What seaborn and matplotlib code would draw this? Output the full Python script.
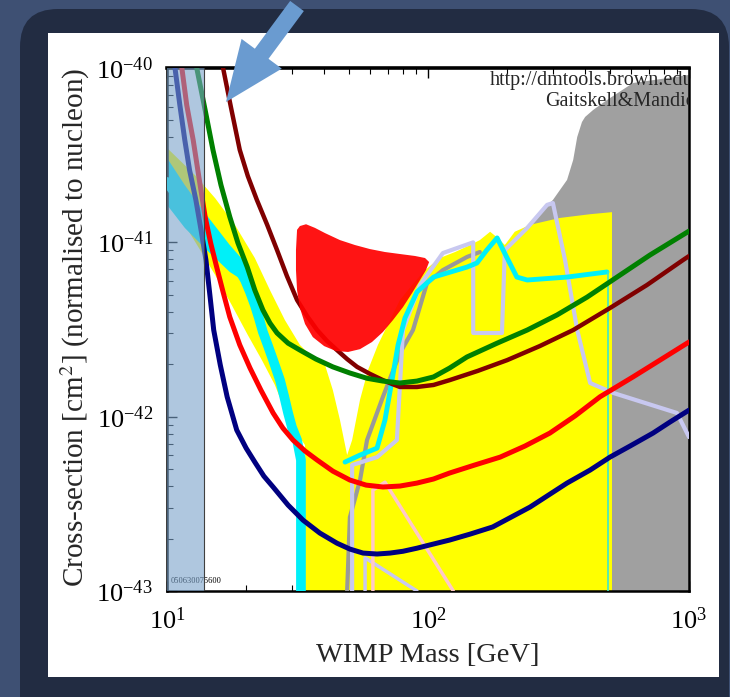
import matplotlib
matplotlib.use("Agg")
import matplotlib.pyplot as plt
import seaborn as sns
from matplotlib.patches import Rectangle, FancyBboxPatch, FancyArrow
from matplotlib.ticker import LogLocator, LogFormatterMathtext, NullFormatter

# ---------------- data (WIMP mass in GeV, cross-section in cm^2) ----------------
band_mass = [10.0, 13.9]

navy_mass = [10.73, 11.2, 11.7, 12.2, 12.9, 13.5, 14.1, 14.6, 15.1, 16.0, 17.0, 18.5, 20.1, 21.7, 23.5, 25.5, 29.1, 33.2,
             38.5, 44.8, 50.2, 56.4, 63.8, 71.5, 80.2, 90.7, 105, 121, 145, 177, 246, 341, 418, 498, 594, 728, 845, 1000]
navy_xsec = [1.00e-40, 6.13e-41, 3.86e-41, 2.60e-41, 1.75e-41, 1.18e-41, 7.91e-42, 4.98e-42, 3.14e-42, 1.98e-42, 1.30e-42,
             8.38e-43, 6.60e-43, 5.49e-43, 4.56e-43, 3.95e-43, 3.11e-43, 2.55e-43, 2.15e-43, 1.88e-43, 1.74e-43, 1.65e-43,
             1.63e-43, 1.65e-43, 1.69e-43, 1.76e-43, 1.86e-43, 1.96e-43, 2.12e-43, 2.33e-43, 3.03e-43, 4.16e-43, 4.94e-43,
             5.86e-43, 6.78e-43, 8.05e-43, 9.31e-43, 1.09e-42]

red_mass = [11.4, 11.9, 12.6, 13.3, 14.0, 14.7, 15.5, 16.4, 17.4, 19.0, 20.8, 22.9, 25.5, 27.8, 30.4, 33.8, 37.6, 43.2, 50.2,
            57.9, 67.2, 78.1, 90.7, 105, 121, 151, 189, 235, 293, 366, 456, 610, 774, 1000]
red_xsec = [1.0e-40, 6.13e-41, 3.86e-41, 2.28e-41, 1.40e-41, 9.91e-42, 7.21e-42, 5.19e-42, 3.73e-42, 2.58e-42, 1.90e-42,
            1.42e-42, 1.05e-42, 8.60e-43, 7.34e-43, 6.35e-43, 5.64e-43, 4.87e-43, 4.33e-43, 4.05e-43, 3.95e-43, 4.00e-43,
            4.16e-43, 4.39e-43, 4.75e-43, 5.28e-43, 5.86e-43, 6.78e-43, 8.05e-43, 1.01e-42, 1.30e-42, 1.69e-42, 2.11e-42,
            2.68e-42]

green_mass = [13.0, 14.0, 15.0, 16.1, 17.4, 18.7, 20.3, 21.7, 23.3, 24.8, 26.4, 29.1, 32.3, 37.2, 43.2, 50.2, 58.4, 67.2,
              78.1, 90.7, 105, 121, 141, 184, 240, 312, 407, 530, 709, 1000]
green_xsec = [1.0e-40, 5.74e-41, 3.39e-41, 2.13e-41, 1.40e-41, 9.91e-42, 7.21e-42, 5.32e-42, 4.09e-42, 3.44e-42, 3.02e-42,
              2.64e-42, 2.41e-42, 2.14e-42, 1.93e-42, 1.78e-42, 1.66e-42, 1.60e-42, 1.56e-42, 1.60e-42, 1.69e-42, 1.90e-42,
              2.20e-42, 2.64e-42, 3.14e-42, 3.83e-42, 4.85e-42, 6.32e-42, 8.46e-42, 1.16e-41]

maroon_mass = [16.4, 17.6, 19.0, 20.4, 22.1, 24.2, 26.4, 28.8, 31.5, 34.4, 37.6, 41.0, 44.8, 49.0, 53.5, 59.9, 67.2, 72.8,
               78.1, 90.7, 105, 121, 155, 201, 268, 360, 498, 690, 948, 1000]
maroon_xsec = [1.0e-40, 5.90e-41, 3.39e-41, 2.40e-41, 1.75e-41, 1.26e-41, 9.03e-42, 6.41e-42, 4.67e-42, 3.78e-42, 3.14e-42,
               2.72e-42, 2.41e-42, 2.14e-42, 1.93e-42, 1.76e-42, 1.62e-42, 1.54e-42, 1.48e-42, 1.48e-42, 1.52e-42, 1.62e-42,
               1.83e-42, 2.11e-42, 2.54e-42, 3.14e-42, 4.20e-42, 5.69e-42, 7.91e-42, 8.34e-42]

blob_mass = [31.5, 32.3, 34.1, 36.9, 40.3, 46.0, 52.5, 59.9, 68.4, 78.1, 89.2, 97.4, 101, 98.2, 93.2, 86.9, 80.2, 73.4,
             67.2, 61.0, 54.9, 49.4, 44.4, 40.0, 36.2, 33.8, 32.3, 31.5, 31.2, 31.2]
blob_xsec = [1.18e-41, 1.24e-41, 1.27e-41, 1.21e-41, 1.13e-41, 1.03e-41, 9.65e-42, 9.15e-42, 8.80e-42, 8.57e-42, 8.35e-42,
             8.13e-42, 7.71e-42, 6.93e-42, 6.08e-42, 5.12e-42, 4.25e-42, 3.58e-42, 3.06e-42, 2.68e-42, 2.44e-42, 2.35e-42,
             2.38e-42, 2.54e-42, 2.86e-42, 3.40e-42, 4.20e-42, 5.32e-42, 6.93e-42, 9.03e-42]

yellow_mass = [10.0, 12.8, 15.3, 18.2, 21.7, 24.8, 28.3, 32.3, 36.9, 40.3, 43.2, 46.0, 49.0, 51.2, 54.9, 58.9, 64.3, 71.5,
               78.1, 86.9, 97.4, 111, 127, 145, 158, 173, 185, 197, 215, 246, 320, 418, 507, 507, 33.8, 33.8, 30.9, 28.3,
               25.9, 23.1, 20.4, 17.7, 15.3, 13.4, 11.7, 10.0]
yellow_xsec = [3.48e-41, 2.43e-41, 1.79e-41, 1.26e-41, 8.13e-42, 5.32e-42, 3.58e-42, 2.58e-42, 2.11e-42, 1.98e-42, 1.42e-42,
               9.56e-43, 6.02e-43, 7.34e-43, 1.25e-42, 1.85e-42, 2.58e-42, 3.58e-42, 4.67e-42, 5.69e-42, 6.93e-42, 8.13e-42,
               8.80e-42, 9.65e-42, 1.03e-41, 1.15e-41, 1.06e-41, 9.65e-42, 1.15e-41, 1.26e-41, 1.38e-41, 1.45e-41, 1.49e-41,
               1.0e-43, 1.0e-43, 6.87e-43, 8.38e-43, 1.09e-42, 1.52e-42, 2.11e-42, 2.94e-42, 4.37e-42, 6.49e-42, 9.03e-42,
               1.26e-41, 1.75e-41]

gray_mass = [1000, 610, 485, 429, 400, 389, 373, 360, 341, 301, 252, 219, 206, 158, 158, 507, 507, 1000]
gray_xsec = [9.12e-41, 8.20e-41, 6.55e-41, 5.74e-41, 5.24e-41, 4.90e-41, 4.02e-41, 2.97e-41, 2.28e-41, 1.75e-41, 1.34e-41,
             1.07e-41, 9.91e-42, 8.46e-42, 6.93e-42, 6.93e-42, 1.0e-43, 1.0e-43]

cyanband_mass = [10.0, 11.7, 14.2, 17.4, 20.8, 20.8, 17.4, 14.2, 11.7, 10.0]
cyanband_xsec = [3.05e-41, 2.13e-41, 1.43e-41, 9.65e-42, 7.12e-42, 5.69e-42, 6.76e-42, 9.03e-42, 1.21e-41, 1.64e-41]

cyan_mass = [10.0, 11.0, 12.2, 13.4, 14.6, 16.0, 17.4, 18.7, 19.9, 20.8, 21.7, 22.5, 23.3, 24.4, 25.5, 27.1, 28.1, 29.1,
             30.1, 31.5, 32.6, 32.6]
cyan_xsec = [2.22e-41, 1.82e-41, 1.49e-41, 1.26e-41, 1.06e-41, 9.15e-42, 8.13e-42, 7.12e-42, 6.08e-42, 5.19e-42, 4.37e-42,
             3.68e-42, 3.06e-42, 2.54e-42, 2.11e-42, 1.62e-42, 1.31e-42, 1.05e-42, 8.71e-43, 7.34e-43, 5.64e-43, 1.0e-43]

cyan2_mass = [48.1, 54.9, 63.8, 68.4, 72.8, 76.8, 81.6, 90.7, 105, 141, 154, 168, 184, 194, 219, 240, 341, 485]
cyan2_xsec = [5.49e-43, 6.02e-43, 6.60e-43, 9.56e-43, 1.62e-42, 2.58e-42, 3.68e-42, 5.19e-42, 6.32e-42, 7.21e-42, 7.61e-42,
              9.03e-42, 1.06e-41, 9.03e-42, 6.32e-42, 6.08e-42, 6.32e-42, 6.76e-42]
cyan3_mass = [490, 490]
cyan3_xsec = [6.76e-42, 1.0e-43]

grayline_mass = [49.0, 50.2, 54.9, 58.4, 67.2, 78.1, 87.6, 99.1, 114, 141, 158]
grayline_xsec = [1.0e-43, 2.65e-43, 4.33e-43, 7.34e-43, 1.30e-42, 2.32e-42, 3.14e-42, 5.84e-42, 6.93e-42, 8.24e-42, 8.80e-42]

lav_mass = [51.2, 51.2, 63.8, 76.0, 80.2, 93.2, 114, 149, 149, 192, 197, 240, 286, 301, 335, 373, 418, 511, 899, 1000]
lav_xsec = [1.0e-43, 5.28e-43, 5.86e-43, 7.34e-43, 3.14e-42, 5.69e-42, 8.68e-42, 1.00e-41, 3.02e-42, 3.02e-42, 9.03e-42,
            1.21e-41, 1.64e-41, 1.68e-41, 7.91e-42, 3.14e-42, 1.56e-42, 1.37e-42, 1.05e-42, 7.64e-43]
lav2_mass = [57.4, 57.4, 90.7]
lav2_xsec = [1.0e-43, 1.55e-43, 1.0e-43]

pink_mass = [61.5, 61.5, 68.4, 125]
pink_xsec = [1.0e-43, 3.79e-43, 4.21e-43, 1.0e-43]

x_ticks = [10, 100, 1000]
y_ticks = [1e-43, 1e-42, 1e-41, 1e-40]

# ---------------- style ----------------
sns.set_theme(style="ticks")
plt.rcParams["font.family"] = ["Liberation Serif", "DejaVu Serif"]
plt.rcParams["mathtext.fontset"] = "stix"

W, H = 730, 697
fig = plt.figure(figsize=(W / 100, H / 100), dpi=100)
fig.patch.set_facecolor("#3e5073")

bg = fig.add_axes([0, 0, 1, 1], zorder=0)
bg.set_xlim(0, W)
bg.set_ylim(H, 0)
bg.axis("off")
bg.add_patch(FancyBboxPatch((20, 9), 709, 730, boxstyle="round,pad=0,rounding_size=38",
                            facecolor="#222c42", edgecolor="none"))
bg.add_patch(Rectangle((48, 33), 671, 644, facecolor="white", edgecolor="none"))

ax = fig.add_axes([167 / W, 1 - 591 / H, (689 - 167) / W, (591 - 68) / H], zorder=2)
ax.set_facecolor("white")
ax.set_xscale("log")
ax.set_yscale("log")

# fills
ax.fill(gray_mass, gray_xsec, color="#a0a0a0", lw=0, zorder=1)
ax.fill(yellow_mass, yellow_xsec, color="#ffff00", lw=0, zorder=2)
ax.fill(cyanband_mass, cyanband_xsec, color="#00f0f8", lw=0, zorder=2.5)

# lines
def line(xs, ys, color, lw, z):
    sns.lineplot(x=xs, y=ys, ax=ax, color=color, lw=lw, sort=False, estimator=None, zorder=z)

line(cyan_mass, cyan_xsec, "#00f0f8", 7.0, 3)
line(grayline_mass, grayline_xsec, "#999999", 3.0, 3.2)
line(lav_mass, lav_xsec, "#c8c8f0", 3.0, 3.3)
line(lav2_mass, lav2_xsec, "#c8c8f0", 2.5, 3.3)
line(pink_mass, pink_xsec, "#ffc8c8", 2.5, 3.3)
line(cyan2_mass, cyan2_xsec, "#00f0f8", 3.5, 3.4)
line(cyan3_mass, cyan3_xsec, "#40e8c8", 1.2, 3.4)
line(maroon_mass, maroon_xsec, "#800000", 3.2, 4)
line(green_mass, green_xsec, "#008000", 3.6, 4.2)
line(red_mass, red_xsec, "#ff0000", 3.6, 4.4)
line(navy_mass, navy_xsec, "#000080", 3.6, 4.6)

ax.fill(blob_mass, blob_xsec, color="#ff0000", alpha=0.92, lw=0, zorder=6)

ax.text(0.006, 0.012, "050630075600", transform=ax.transAxes, fontsize=6, ha="left", va="bottom",
        color="black", zorder=7)

ax.axvspan(band_mass[0], band_mass[1], color="#7ba3cb", alpha=0.6, lw=0, zorder=8)
ax.axvline(band_mass[1], color="#404040", lw=0.8, zorder=8)

ax.text(0.619, 0.977, "http://dmtools.brown.edu/", transform=ax.transAxes, fontsize=14.5, ha="left",
        va="center", clip_on=True, zorder=9)
ax.text(0.724, 0.935, "Gaitskell&Mandic", transform=ax.transAxes, fontsize=14.5, ha="left",
        va="center", clip_on=True, zorder=9)

ax.set_xlim(10, 1000)
ax.set_ylim(1e-43, 1e-40)
ax.set_xticks(x_ticks)
ax.set_yticks(y_ticks)
ax.xaxis.set_major_formatter(LogFormatterMathtext())
ax.yaxis.set_major_formatter(LogFormatterMathtext())
ax.xaxis.set_minor_locator(LogLocator(base=10, subs=range(2, 10), numticks=20))
ax.yaxis.set_minor_locator(LogLocator(base=10, subs=range(2, 10), numticks=20))
ax.xaxis.set_minor_formatter(NullFormatter())
ax.yaxis.set_minor_formatter(NullFormatter())
ax.tick_params(which="both", direction="in", top=True, right=True, colors="black")
ax.tick_params(which="major", length=7, width=1.0, labelsize=19)
ax.tick_params(which="minor", length=4, width=0.8)
ax.tick_params(axis="x", which="major", pad=12)
ax.tick_params(axis="y", which="major", pad=10)
for s in ax.spines.values():
    s.set_color("black")
    s.set_linewidth(1.8)
ax.spines["top"].set_linewidth(2.6)

ax.set_xlabel("WIMP Mass [GeV]", fontsize=20.5)
ax.set_ylabel("Cross-section [cm$^2$] (normalised to nucleon)", fontsize=21)
ax.xaxis.set_label_coords(0.5, -0.1)
ax.yaxis.set_label_coords(-0.143, 0.503)

fg = fig.add_axes([0, 0, 1, 1], zorder=5)
fg.set_xlim(0, W)
fg.set_ylim(H, 0)
fg.axis("off")
fg.patch.set_alpha(0)
fg.add_patch(FancyArrow(297, 6, -71, 96, width=17, head_width=50, head_length=60,
                        length_includes_head=True, color="#6a9bd0", lw=0))

fig.savefig("out.png", dpi=100, facecolor=fig.get_facecolor())
